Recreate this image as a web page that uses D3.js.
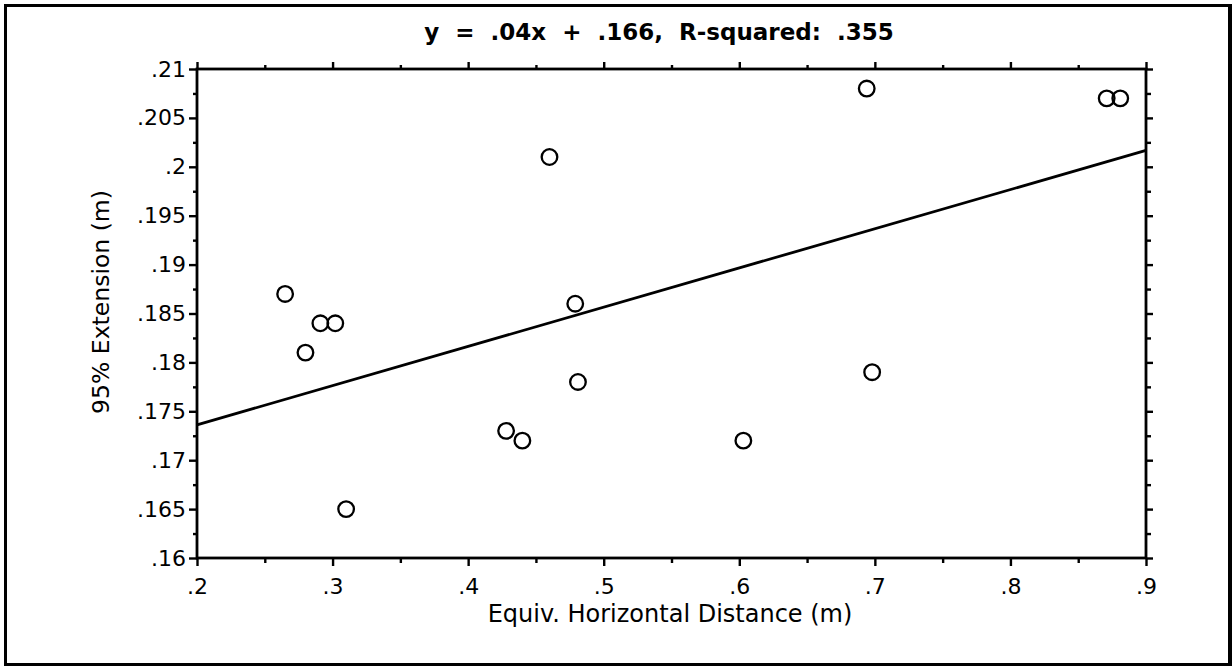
<!DOCTYPE html>
<html>
<head>
<meta charset="utf-8">
<script src="https://cdn.jsdelivr.net/npm/d3@7"></script>
<style>
  html, body { margin: 0; padding: 0; background: #fff; }
  svg { display: block; }
  text { font-family: "DejaVu Sans", Verdana, sans-serif; fill: #000; }
</style>
</head>
<body>
<svg id="chart" width="1232" height="666"></svg>
<script>
// Equivalent horizontal distance (m) and 95% extension (m) per trial
const distance  = [0.265, 0.291, 0.302, 0.280, 0.310, 0.460, 0.479, 0.481, 0.428, 0.440, 0.694, 0.698, 0.603, 0.871, 0.881];
const extension = [0.187, 0.184, 0.184, 0.181, 0.165, 0.201, 0.186, 0.178, 0.173, 0.172, 0.208, 0.179, 0.172, 0.207, 0.207];

const xTicks      = [0.2, 0.3, 0.4, 0.5, 0.6, 0.7, 0.8, 0.9];
const xMinorTicks = [0.25, 0.35, 0.45, 0.55, 0.65, 0.75, 0.85];
const yTicks      = [0.16, 0.165, 0.17, 0.175, 0.18, 0.185, 0.19, 0.195, 0.2, 0.205, 0.21];
const yMinorTicks = [0.1625, 0.1675, 0.1725, 0.1775, 0.1825, 0.1875, 0.1925, 0.1975, 0.2025, 0.2075];

const xTitle = "Equiv. Horizontal Distance (m)";
const yTitle = "95% Extension (m)";

const svg = d3.select("#chart");
const W = 1232, H = 666;

// Outer frame (slightly heavier on the right edge)
svg.append("rect").attr("x", 4).attr("y", 4).attr("width", W - 4).attr("height", H - 4).attr("fill", "#000");
svg.append("rect").attr("x", 7).attr("y", 7).attr("width", 1221).attr("height", 656).attr("fill", "#fff");

const x = d3.scaleLinear().domain([0.2, 0.9]).range([197, 1146]);
const y = d3.scaleLinear().domain([0.16, 0.21]).range([558, 69]);

// Tick labels drop the leading zero: 0.165 -> .165
const noLeadZero = v => d3.format("~g")(v).replace(/^0\./, ".");

const tickStroke = 2.4;
function styleAxis(g) {
  g.select(".domain").remove();
  g.selectAll(".tick line").attr("stroke", "#000").attr("stroke-width", tickStroke);
  g.selectAll(".tick text").attr("font-size", 22).attr("fill", "#000");
}

// Bottom axis: major ticks with labels, minor ticks without
svg.append("g").attr("transform", `translate(0,${y.range()[0]})`)
  .call(d3.axisBottom(x).tickValues(xTicks).tickSize(8).tickPadding(12).tickFormat(noLeadZero))
  .call(styleAxis);
svg.append("g").attr("transform", `translate(0,${y.range()[0]})`)
  .call(d3.axisBottom(x).tickValues(xMinorTicks).tickSize(5).tickFormat(""))
  .call(styleAxis);

// Top axis: ticks only
svg.append("g").attr("transform", `translate(0,${y.range()[1]})`)
  .call(d3.axisTop(x).tickValues(xTicks).tickSize(7).tickFormat(""))
  .call(styleAxis);
svg.append("g").attr("transform", `translate(0,${y.range()[1]})`)
  .call(d3.axisTop(x).tickValues(xMinorTicks).tickSize(4).tickFormat(""))
  .call(styleAxis);

// Left axis: major ticks with labels, minor ticks without
svg.append("g").attr("transform", `translate(${x.range()[0]},0)`)
  .call(d3.axisLeft(y).tickValues(yTicks).tickSize(8).tickPadding(3).tickFormat(noLeadZero))
  .call(styleAxis);
svg.append("g").attr("transform", `translate(${x.range()[0]},0)`)
  .call(d3.axisLeft(y).tickValues(yMinorTicks).tickSize(4).tickFormat(""))
  .call(styleAxis);

// Right axis: ticks only
svg.append("g").attr("transform", `translate(${x.range()[1]},0)`)
  .call(d3.axisRight(y).tickValues(yTicks).tickSize(7).tickFormat(""))
  .call(styleAxis);
svg.append("g").attr("transform", `translate(${x.range()[1]},0)`)
  .call(d3.axisRight(y).tickValues(yMinorTicks).tickSize(5).tickFormat(""))
  .call(styleAxis);

// Plot frame
svg.append("rect")
  .attr("x", x.range()[0]).attr("y", y.range()[1])
  .attr("width", x.range()[1] - x.range()[0]).attr("height", y.range()[0] - y.range()[1])
  .attr("fill", "none").attr("stroke", "#000").attr("stroke-width", 2.8);

// Least-squares fit of extension on distance
const mx = d3.mean(distance), my = d3.mean(extension);
let sxy = 0, sxx = 0, syy = 0;
distance.forEach((d, i) => {
  const dx = d - mx, dy = extension[i] - my;
  sxy += dx * dy; sxx += dx * dx; syy += dy * dy;
});
const slope = sxy / sxx;
const intercept = my - slope * mx;
const r2 = (sxy * sxy) / (sxx * syy);

const fitLine = d3.line().x(d => x(d)).y(d => y(slope * d + intercept));
svg.append("path")
  .datum(x.domain())
  .attr("d", fitLine)
  .attr("fill", "none").attr("stroke", "#000").attr("stroke-width", 2.8);

// Data points as open circles
svg.append("g").selectAll("circle")
  .data(distance.map((d, i) => [d, extension[i]]))
  .join("circle")
  .attr("cx", d => x(d[0]))
  .attr("cy", d => y(d[1]))
  .attr("r", 7.8)
  .attr("fill", "none")
  .attr("stroke", "#000")
  .attr("stroke-width", 2.3);

// Title with the fitted equation
const f = (v, p) => d3.format(`.${p}f`)(v).replace(/^0\./, ".");
svg.append("text")
  .attr("x", 659).attr("y", 40)
  .attr("text-anchor", "middle")
  .attr("font-size", 23).attr("font-weight", "bold")
  .style("white-space", "pre")
  .text(`y  =  ${f(slope, 2)}x  +  ${f(intercept, 3)},  R-squared:  ${f(r2, 3)}`);

// Axis titles
svg.append("text")
  .attr("x", 670).attr("y", 622)
  .attr("text-anchor", "middle")
  .attr("font-size", 24)
  .text(xTitle);

svg.append("text")
  .attr("transform", "translate(109,302) rotate(-90)")
  .attr("text-anchor", "middle")
  .attr("font-size", 23.5)
  .text(yTitle);
</script>
</body>
</html>
